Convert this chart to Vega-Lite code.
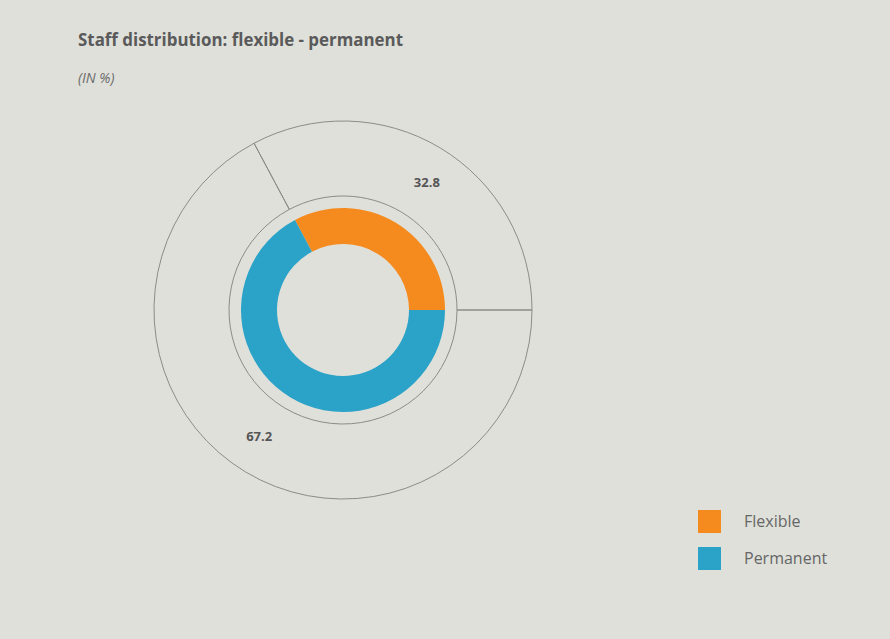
{
  "$schema": "https://vega.github.io/schema/vega-lite/v6.json",
  "autosize": {"type": "none"},
  "width": 400,
  "height": 400,
  "padding": {"left": 143, "top": 110, "right": 347, "bottom": 129},
  "background": "#dfe0da",
  "title": {
    "text": "Staff distribution: flexible - permanent",
    "subtitle": "(IN %)",
    "anchor": "start",
    "frame": "group",
    "dx": -65,
    "offset": 25,
    "dy": 2,
    "font": "Open Sans",
    "fontSize": 16.9,
    "fontWeight": "bold",
    "color": "#5a5a5a",
    "subtitleFont": "Open Sans",
    "subtitleFontSize": 14,
    "subtitleFontStyle": "italic",
    "subtitleColor": "#6a6a6a",
    "subtitlePadding": 22
  },
  "data": {
    "values": [
      {"category": "Flexible", "value": 32.8},
      {"category": "Permanent", "value": 67.2}
    ]
  },
  "encoding": {
    "theta": {
      "field": "value",
      "type": "quantitative",
      "stack": true,
      "scale": {"range": [-0.4901, 5.7931]}
    },
    "order": {"field": "category", "type": "ordinal"}
  },
  "layer": [
    {
      "mark": {"type": "arc", "radius": 189, "radius2": 114, "fill": null, "filled": false, "stroke": "#8c8c88", "strokeWidth": 1},
      "encoding": {"detail": {"field": "category"}}
    },
    {
      "mark": {"type": "arc", "radius": 102, "radius2": 66, "stroke": null},
      "encoding": {
        "color": {
          "field": "category",
          "type": "nominal",
          "scale": {"domain": ["Flexible", "Permanent"], "range": ["#f58b1f", "#2ba2c7"]},
          "legend": {
            "title": null,
            "orient": "none",
            "legendX": 555,
            "legendY": 400,
            "symbolType": "square",
            "symbolSize": 529,
            "symbolStrokeWidth": 0,
            "symbolOpacity": 1,
            "labelFont": "Open Sans",
            "labelFontSize": 16,
            "labelColor": "#666666",
            "labelOffset": 23,
            "rowPadding": 14,
            "padding": 0
          }
        }
      }
    },
    {
      "mark": {"type": "text", "radius": 152, "thetaOffset": 0.044, "font": "Open Sans", "fontSize": 13, "fontWeight": "bold", "color": "#555555"},
      "encoding": {
        "detail": {"field": "category"},
        "text": {"field": "value", "type": "quantitative", "format": ".1f"}
      }
    }
  ]
}
